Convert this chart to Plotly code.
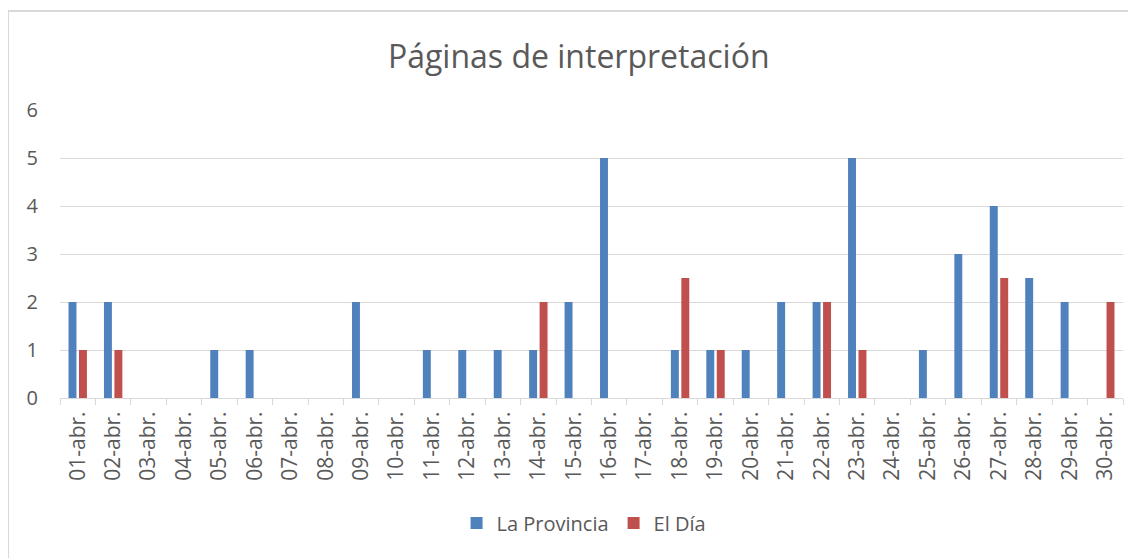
import plotly.graph_objects as go

categories = ["01-abr.", "02-abr.", "03-abr.", "04-abr.", "05-abr.", "06-abr.", "07-abr.", "08-abr.",
              "09-abr.", "10-abr.", "11-abr.", "12-abr.", "13-abr.", "14-abr.", "15-abr.", "16-abr.",
              "17-abr.", "18-abr.", "19-abr.", "20-abr.", "21-abr.", "22-abr.", "23-abr.", "24-abr.",
              "25-abr.", "26-abr.", "27-abr.", "28-abr.", "29-abr.", "30-abr."]
la_provincia = [2, 2, 0, 0, 1, 1, 0, 0, 2, 0, 1, 1, 1, 1, 2, 5, 0, 1, 1, 1, 2, 2, 5, 0, 1, 3, 4, 2.5, 2, 0]
el_dia = [1, 1, 0, 0, 0, 0, 0, 0, 0, 0, 0, 0, 0, 2, 0, 0, 0, 2.5, 1, 0, 0, 2, 1, 0, 0, 0, 2.5, 0, 0, 2]
y_ticks = [0, 1, 2, 3, 4, 5, 6]

FONT = "Open Sans"
GRAY = "#595959"
GRID = "#D9D9D9"

# page body has an 8px default margin; compensate so the picture lands where the reference is
OFF = 8
L, T = 60 - OFF, 110 - OFF
PW, PH = 1063, 288
R = 1136 - L - PW
B = 558 - T - PH

fig = go.Figure()
fig.add_trace(go.Bar(x=categories, y=la_provincia, name="La Provincia",
                     marker=dict(color="#4F81BD", line=dict(width=0))))
fig.add_trace(go.Bar(x=categories, y=el_dia, name="El Día",
                     marker=dict(color="#C0504D", line=dict(width=0))))

fig.update_layout(
    width=1136, height=558,
    margin=dict(l=L, r=R, t=T, b=B),
    paper_bgcolor="white", plot_bgcolor="white",
    barmode="group", bargap=0.41, bargroupgap=0.24,
    title=dict(text="Páginas de interpretación", x=0.488, xref="paper", xanchor="center",
               y=1 - (57 - OFF) / 558, yref="container", yanchor="middle",
               font=dict(family=FONT, size=32, color=GRAY)),
    legend=dict(orientation="h", x=0.493, xanchor="center", y=(T + PH - (523 - OFF)) / PH,
                yanchor="middle",
                font=dict(family=FONT, size=20, color=GRAY), itemwidth=30,
                traceorder="normal"),
    font=dict(family=FONT, color=GRAY),
    shapes=[dict(type="rect", xref="paper", yref="paper",
                 x0=(8 - 60) / PW, x1=1.2, y0=-0.8, y1=(398 - 11) / PH,
                 line=dict(color=GRID, width=2), fillcolor="rgba(0,0,0,0)", layer="below")],
)
fig.update_xaxes(type="category", showline=True, linecolor=GRID, linewidth=1,
                 ticks="outside", tickson="boundaries", ticklen=6, tickcolor=GRID, tickwidth=1,
                 tickangle=-90, ticklabelstandoff=4,
                 tickfont=dict(family=FONT, size=21, color=GRAY),
                 showgrid=False)
fig.update_yaxes(range=[0, 6], tickvals=y_ticks, showgrid=True, gridcolor=GRID, gridwidth=1,
                 zeroline=False, showline=False, ticks="", ticklabelstandoff=21,
                 tickfont=dict(family=FONT, size=20, color=GRAY))

fig.write_html("out.html")
